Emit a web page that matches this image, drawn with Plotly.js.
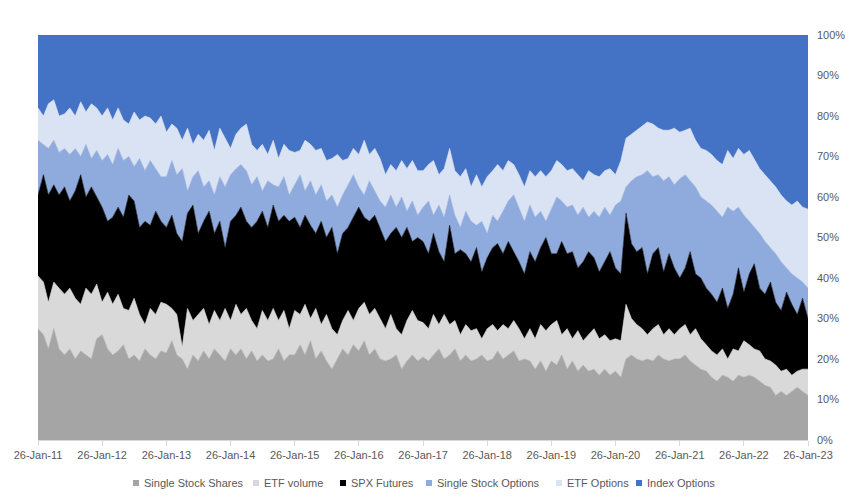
<!DOCTYPE html>
<html>
<head>
<meta charset="utf-8">
<script src="https://cdn.plot.ly/plotly-3.0.1.min.js"></script>
<style>html,body{margin:0;padding:0;background:#fff;}#chart{width:845px;height:498px;}</style>
</head>
<body>
<div id="chart"></div>
<script>
// Monthly readings (26th of each month), Jan-2011 .. Jan-2023, share of total (%)
const startYear = 2011, nMonths = 145;
const seriesNames = ["Single Stock Shares","ETF volume","SPX Futures","Single Stock Options","ETF Options","Index Options"];
const seriesColors = ["#a5a5a5","#d9d9d9","#000000","#8faadc","#dae3f3","#4472c4"];

const singleStockShares = [
27.5,26,22.5,27.5,22.5,21,22.5,20,22,21,20,25,
26,22.5,21,22,23.5,20,21,19.5,22.5,21,20,22,
21.5,24.5,21,20,17.5,21,19.5,22,20,22.5,21,19.5,
22.5,21,22.5,20,22,19.5,21,19.5,20,22.5,19.5,21,
21,23.5,21,24.5,20,22,19.5,17.5,20,22.5,21,23.5,
22,24.5,21,22.5,20,19.5,20,21,17.5,19.5,21,19.5,
20.5,19.5,21,22.5,20,21,22.5,19.5,21,19.5,20,21,
19.5,20,22,20,21,22,19.5,20,19.5,17.5,19.5,17,
19.5,18.5,21,17.5,19.5,17,18.5,17,17.5,16,17.5,16,
17,15.5,20,21,20,19.5,20,19.5,21,20,19.5,20,
20,21,19.5,18.5,17.5,17,15.5,14.5,16,15.5,14.5,16,
15.5,16,15.5,14.5,13.5,13,11,12,11,12,13,12,
11];
const etfVolume = [
13,13,11.5,11.5,15,15,15,15,11.5,16.5,16,13.5,
8,14,12.5,14,9,12,14,11.5,6,11.5,11,12,
12,8,10,3,15,8.5,11.5,10.5,8.5,9.5,8.5,13,
7,12.5,8.5,12.5,7.5,8,11,10,12.5,7,12.5,6.5,
11,7.5,12.5,5.5,12.5,6.5,11.5,10,6,7,11,6,
10.5,9.5,10,10,10,8,11,6.5,8.5,10,11,10,
8.5,8,10,6,11,7.5,7,6.5,7.5,7.5,7.5,4,
8,8.5,5,8.5,6.5,7.5,8,5,8,7.5,9,10,
9,11,5,10,5.5,10,6,9,10,9,8.5,8.5,
8,9,13.5,9,8.5,8,6,8,7.5,6,8,6,
7.5,7.5,6.5,9,7.5,6.5,6.5,6.5,6.5,4.5,8,6,
9,7.5,7,7.5,6.5,6.5,7.5,5,6.5,4,4,5.5,
6.5];
const spxFutures = [
20,26.5,26.5,24,23,26.5,21.5,26.5,32,22.5,26.5,21.5,
23.5,17.5,21.5,21.5,22.5,28.5,24,21.5,25.5,20.5,25.5,20,
19,23,20,26,23.5,28.5,20,21.5,28,19,24.5,15,
24.5,22,26.5,21.5,23,26.5,24.5,23,25.5,24.5,23.5,26.5,
23,21.5,22,23,18.5,25.5,19,25,20,21.5,20.5,25.5,
25,21,23,23,22.5,21.5,20,25,24,23,17,20.5,
20,18.5,20,18,13,24.5,16.5,21,17.5,17,20,16.5,
17.5,19,21.5,17.5,21.5,17,16.5,16,19,19,19,23,
17.5,16.5,23,18.5,21.5,15.5,19.5,20.5,17.5,16.5,18,22,
17.5,16.5,22.5,18.5,18,20,15,18.5,19,15.5,18.5,16.5,
12.5,14,20.5,13.5,15,14,14,13,15,12.5,13.5,20.5,
12,17.5,21,15.5,16,19.5,15.5,15,19,17.5,14,17.5,
12.5];
const singleStockOptions = [
13.5,7.5,11.5,11,10.5,9.5,11.5,10.5,4.5,13,7,11.5,
11.5,16.5,13,14.5,14,9.5,8.5,17,12.5,16,10.5,11,
12.5,13.5,14.5,18,5.5,7,15.5,8.5,7.5,9.5,11,15,
11.5,11.5,10.5,12.5,10.5,11,5,11.5,5,8.5,9.5,6.5,
8,13,6,11,9.5,9,9,8,11.5,9.5,10.5,10.5,
5,5.5,10,6,6.5,8.5,9.5,5,10,4,10,5.5,
8.5,13,4.5,11.5,11,7.5,9.5,5.5,10.5,10,5.5,12.5,
6,8,5.5,10.5,10,14,13.5,13,11.5,11,9,4,
11,14,10,11.5,11.5,13,13.5,8.5,11.5,13.5,13.5,9,
15.5,18,6.5,15.5,18.5,18,25.5,19,18,22.5,19,20.5,
24.5,23,17.5,21.5,20,21.5,22,22.5,17.5,25,20.5,15,
19,13,9,13.5,13,8.5,12,12,6,7.5,9,4,
7.5];
const etfOptions = [
8,7,11,10,9,8.5,11.5,8,13.5,8,13.5,10.5,
11,11.5,11,10,10,8,13.5,9.5,13.5,10.5,11,15,
11,9,11.5,7,15.5,8,9,11.5,12.5,11,12,12,
6.5,8.5,9,11.5,10,6.5,11.5,6.5,11,7,8,11,
8,6,12.5,9,11,9,10,9,13,8.5,6.5,6.5,
8,13.5,6.5,10.5,10.5,8,7.5,9,9,10.5,10,11,
9,9,13.5,7.5,12,11.5,11,12.5,10.5,8.5,12.5,8.5,
14,11,14,10,10,7.5,8,8.5,8.5,10,10,11,
9.5,9,9,9,9,10,6.5,11.5,9,10,9,11.5,
7.5,10,12,11.5,11.5,12,12,13,11.5,12.5,11.5,14,
11.5,11,13,11.5,12,12.5,12.5,12.5,13,14,13,14.5,
15,17.5,17,16,16.5,16.5,16.5,16.5,16.5,17,19,18.5,
19.5];
const indexOptions = [
18,20,17,16,20,19.5,18,20,16.5,19,17,18,
20,18,21,18,21,22,19,21,20,20.5,22,20,
24,22,23,26,23,27,24.5,26,23.5,28.5,23,25.5,
28,24.5,23,22,27,28.5,27,29.5,26,30.5,27,28.5,
29,28.5,26,27,28.5,28,31,30.5,29.5,31,30.5,28,
29.5,26,29.5,28,30.5,34.5,32,33.5,31,33,31,33.5,
33.5,32,31,34.5,33,28,33.5,35,33,37.5,34.5,37.5,
35,33.5,32,33.5,31,32,34.5,37.5,33.5,35,33.5,35,
33.5,31,32,33.5,33,34.5,36,33.5,34.5,35,33.5,33,
34.5,31,25.5,24.5,23.5,22.5,21.5,22,23,23.5,23.5,23,
24,23.5,23,26,28,28.5,29.5,31,32,28.5,30.5,28,
29.5,28.5,30.5,33,34.5,36,37.5,39.5,41,42,41,42.5,
43];

const seriesValues = [singleStockShares, etfVolume, spxFutures, singleStockOptions, etfOptions, indexOptions];

function pad(n){return (n<10?"0":"")+n;}
const dates = [];
for (let m = 0; m < nMonths; m++) {
  const y = startYear + Math.floor(m/12), mo = (m % 12) + 1;
  dates.push(y + "-" + pad(mo) + "-26");
}
const yearTicks = [];
for (let y = 2011; y <= 2023; y++) yearTicks.push(y + "-01-26");
const pctTicks = [0,10,20,30,40,50,60,70,80,90,100];

const FONT = '"Liberation Sans", Arial, sans-serif';
const TEXT_COLOR = "#595959";

const traces = seriesValues.map((vals, i) => {
  const t = {
    type: "scatter", mode: "lines", x: dates, y: vals,
    name: seriesNames[i], stackgroup: "one",
    line: {width: 0.6, color: seriesColors[i], shape: "linear"},
    fillcolor: seriesColors[i], showlegend: false, hoverinfo: "skip"
  };
  if (i === 0) t.groupnorm = "percent";
  return t;
});

// ---- layout geometry (pixels) ----
const W = 845, H = 498, ML = 38, MR = 37, MT = 35, MB = 58;
const plotW = W - ML - MR, plotH = H - MT - MB;
const px2x = px => (px - ML) / plotW;
const py2y = py => (H - MB - py) / plotH;

// Legend below the plot: small square swatch + label for each series
const legendTextX = [142, 262, 349, 435, 565, 645];
const legendY = 483, sw = 6;
const shapes = [], annotations = [];
seriesNames.forEach((nm, i) => {
  const sx = legendTextX[i] - 9;
  shapes.push({type: "rect", xref: "paper", yref: "paper",
    x0: px2x(sx), x1: px2x(sx + sw), y0: py2y(legendY + sw/2), y1: py2y(legendY - sw/2),
    fillcolor: seriesColors[i], line: {width: 0}});
  annotations.push({xref: "paper", yref: "paper", x: px2x(legendTextX[i]), y: py2y(legendY),
    xanchor: "left", yanchor: "middle", showarrow: false, text: nm,
    font: {family: FONT, size: 11, color: TEXT_COLOR}});
});

const layout = {
  width: W, height: H,
  margin: {l: ML, r: MR, t: MT, b: MB, pad: 0},
  paper_bgcolor: "#ffffff", plot_bgcolor: "#ffffff",
  font: {family: FONT, size: 11, color: TEXT_COLOR},
  showlegend: false,
  hovermode: false,
  shapes: shapes,
  annotations: annotations,
  xaxis: {
    type: "date", range: [dates[0], dates[dates.length-1]],
    tickmode: "array", tickvals: yearTicks, tickformat: "%d-%b-%y",
    ticks: "outside", ticklen: 5, tickcolor: "#d9d9d9", tickwidth: 1,
    showline: true, linecolor: "#d9d9d9", linewidth: 1,
    showgrid: false, zeroline: false, automargin: false,
    tickfont: {family: FONT, size: 11, color: TEXT_COLOR}
  },
  yaxis: {
    side: "right", range: [0, 100],
    tickmode: "array", tickvals: pctTicks, ticktext: pctTicks.map(v => v + "%"),
    ticks: "", showline: false, showgrid: false, zeroline: false,
    ticklabelstandoff: 8, automargin: false,
    tickfont: {family: FONT, size: 11, color: TEXT_COLOR}
  }
};

Plotly.newPlot("chart", traces, layout, {displayModeBar: false, staticPlot: true});
</script>
</body>
</html>
